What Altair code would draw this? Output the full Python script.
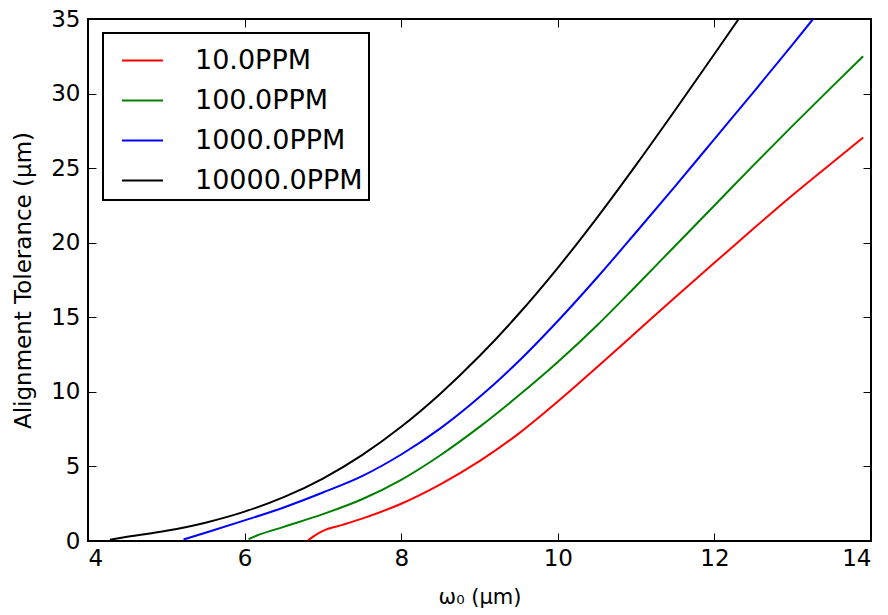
import altair as alt
import pandas as pd

# ---- data ----
series_labels = ["10.0PPM", "100.0PPM", "1000.0PPM", "10000.0PPM"]
series_colors = ["#ff0000", "#008000", "#0000ff", "#000000"]

red_x = [6.81, 6.9, 7.0, 7.25, 7.5, 8.0, 8.5, 9.0, 9.5, 10.0, 10.5, 11.0, 11.5, 12.0, 12.5, 13.0, 13.5, 13.9]
red_y = [0.05, 0.38, 0.68, 1.08, 1.5, 2.5, 3.8, 5.35, 7.2, 9.35, 11.65, 14.0, 16.35, 18.65, 20.95, 23.2, 25.35, 27.05]

green_x = [6.05, 6.15, 6.5, 7.0, 7.5, 8.0, 8.5, 9.0, 9.5, 10.0, 10.5, 11.0, 11.5, 12.0, 12.5, 13.0, 13.5, 13.9]
green_y = [0.12, 0.35, 0.95, 1.8, 2.8, 4.1, 5.75, 7.65, 9.75, 12.0, 14.45, 17.1, 19.8, 22.5, 25.2, 27.85, 30.45, 32.5]

blue_x = [5.22, 5.5, 6.0, 6.5, 7.0, 7.5, 8.0, 8.5, 9.0, 9.5, 10.0, 10.5, 11.0, 11.5, 12.0, 12.5, 13.0, 13.26]
blue_y = [0.1, 0.55, 1.38, 2.25, 3.25, 4.35, 5.8, 7.55, 9.65, 12.05, 14.75, 17.65, 20.7, 23.8, 26.95, 30.1, 33.3, 35.0]

black_x = [4.28, 4.5, 5.0, 5.5, 6.0, 6.5, 7.0, 7.5, 8.0, 8.5, 9.0, 9.5, 10.0, 10.5, 11.0, 11.5, 12.0, 12.31]
black_y = [0.08, 0.28, 0.68, 1.23, 1.97, 2.94, 4.19, 5.76, 7.66, 9.88, 12.4, 15.22, 18.32, 21.67, 25.22, 28.9, 32.65, 35.0]

x_ticks = [4, 6, 8, 10, 12, 14]
y_ticks = [0, 5, 10, 15, 20, 25, 30, 35]

rows = []
for lab, xs, ys in zip(series_labels,
                       [red_x, green_x, blue_x, black_x],
                       [red_y, green_y, blue_y, black_y]):
    for i, (xv, yv) in enumerate(zip(xs, ys)):
        rows.append({"series": lab, "w0": xv, "tol": yv, "idx": i})
df = pd.DataFrame(rows)

FONT = "DejaVu Sans"
xscale = alt.Scale(domain=[4, 14], nice=False, zero=False)
yscale = alt.Scale(domain=[0, 35], nice=False, zero=False)

x_bottom = alt.Axis(values=x_ticks, orient="bottom", offset=-8, tickSize=8, tickWidth=1,
                    tickColor="black", domain=False, grid=False, labelPadding=6,
                    labelFont=FONT, labelFontSize=23, labelColor="black",
                    title="ω₀ (μm)", titleFont=FONT, titleFontSize=21,
                    titleFontWeight="normal", titleColor="black", titlePadding=16)
y_left = alt.Axis(values=y_ticks, orient="left", offset=-8, tickSize=8, tickWidth=1,
                  tickColor="black", domain=False, grid=False, labelPadding=8,
                  labelFont=FONT, labelFontSize=23, labelColor="black",
                  title="Alignment Tolerance (μm)", titleFont=FONT, titleFontSize=23,
                  titleFontWeight="normal", titleColor="black", titlePadding=15)
x_top = alt.Axis(values=x_ticks, orient="top", offset=-8, tickSize=8, tickWidth=1,
                 tickColor="black", domain=False, grid=False, labels=False, title=None)
y_right = alt.Axis(values=y_ticks, orient="right", offset=-8, tickSize=8, tickWidth=1,
                   tickColor="black", domain=False, grid=False, labels=False, title=None)

lines = alt.Chart(df).mark_line(strokeWidth=2, clip=True, interpolate="monotone").encode(
    x=alt.X("w0:Q", scale=xscale, axis=x_bottom),
    y=alt.Y("tol:Q", scale=yscale, axis=y_left),
    color=alt.Color("series:N",
                    scale=alt.Scale(domain=series_labels, range=series_colors),
                    legend=alt.Legend(title=None, orient="none", legendX=15, legendY=14,
                                      symbolType="stroke", symbolSize=1681,
                                      symbolStrokeWidth=2, labelFont=FONT,
                                      labelFontSize=27, labelColor="black",
                                      labelLimit=400, labelOffset=31, rowPadding=5,
                                      padding=6, symbolOffset=12, strokeColor="black",
                                      fillColor="white")),
    detail="series:N",
    order="idx:Q",
)

ghost = alt.Chart(df).mark_point(opacity=0).encode(
    x=alt.X("w0:Q", scale=xscale, axis=x_top),
    y=alt.Y("tol:Q", scale=yscale, axis=y_right),
)

chart = alt.layer(lines, ghost).resolve_axis(x="independent", y="independent").properties(
    width=783, height=522,
    autosize=alt.AutoSizeParams(type="none"),
    padding={"left": 88, "top": 19, "right": 17, "bottom": 74},
    background="white",
).configure_view(stroke="black", strokeWidth=2).configure_legend(strokeWidth=2)

chart.save("out.html", embed_options={"renderer": "svg", "actions": False})
